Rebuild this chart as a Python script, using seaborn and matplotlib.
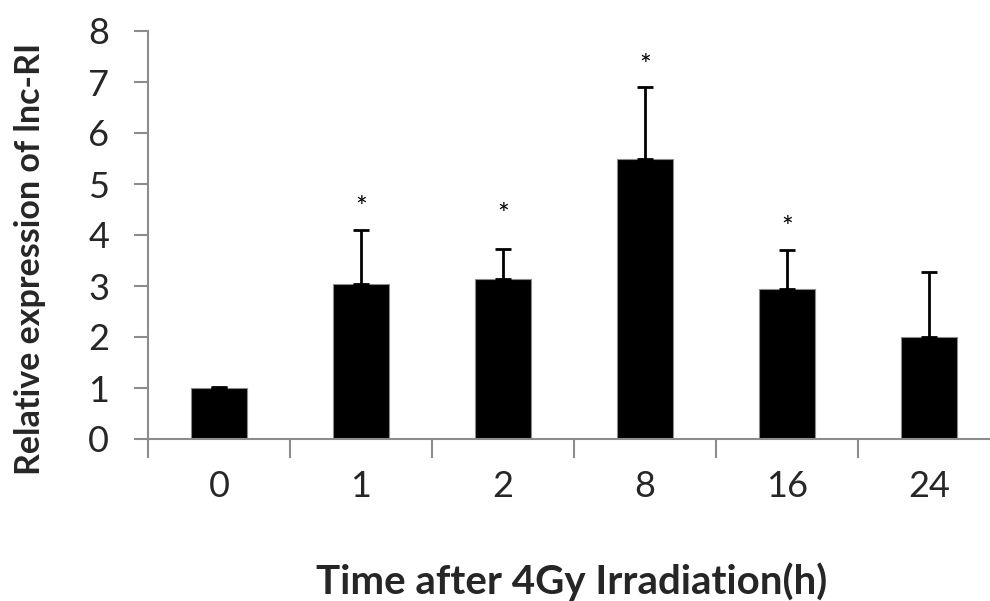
import numpy as np
import pandas as pd
import matplotlib
matplotlib.use('Agg')
import matplotlib.pyplot as plt
import seaborn as sns

# ── Data ──────────────────────────────────────────────────────────────────────
times     = ['0', '1', '2', '8', '16', '24']
means     = [1.00, 3.04, 3.14, 5.50, 2.94, 2.00]
errs_up   = [0.02, 1.06, 0.58, 1.40, 0.76, 1.28]
star_y    = [None, 4.50, 4.37, 7.29, 4.12, None]
y_ticks   = [0, 1, 2, 3, 4, 5, 6, 7, 8]

df = pd.DataFrame({'time': times, 'expr': means})

# ── Style ─────────────────────────────────────────────────────────────────────
sns.set_theme(style='white')
plt.rcParams['font.family'] = ['Lato', 'DejaVu Sans']
AX_GRAY = '#8c8c8c'

fig = plt.figure(figsize=(9.9, 6.01), dpi=100)
ax = fig.add_axes([148 / 990, 1 - 439 / 601, 852 / 990, 408 / 601])

sns.barplot(data=df, x='time', y='expr', color='black', width=0.4,
            errorbar=None, edgecolor=AX_GRAY, linewidth=0.8,
            saturation=1, ax=ax)

x = np.arange(len(times))
ax.errorbar(x, means, yerr=[np.zeros(len(means)), errs_up], fmt='none',
            ecolor='black', elinewidth=2, capsize=6, capthick=2)

for xi, sy in zip(x, star_y):
    if sy is not None:
        ax.text(xi, sy, '*', ha='center', va='center', fontsize=20,
                color='black')

ax.set_xlim(-0.5, len(times) - 0.5)
ax.set_ylim(0, 8)
ax.set_yticks(y_ticks)
ax.set_yticklabels([str(t) for t in y_ticks], fontsize=26)

# x ticks sit between the categories, labels centred under the bars
ax.set_xticks(np.arange(-0.5, len(times), 1.0))
ax.set_xticklabels([])
ax.set_xticks(x, minor=True)
ax.set_xticklabels(times, minor=True, fontsize=26)
ax.tick_params(axis='x', which='major', bottom=True, direction='out',
               length=14, width=1.5, color=AX_GRAY)
ax.tick_params(axis='x', which='minor', bottom=False, length=0, pad=22)
ax.tick_params(axis='y', left=True, direction='out', length=10, width=1.5,
               color=AX_GRAY, pad=18)

for side in ['top', 'right']:
    ax.spines[side].set_visible(False)
for side in ['left', 'bottom']:
    ax.spines[side].set_color(AX_GRAY)
    ax.spines[side].set_linewidth(1.5)

ax.set_xlabel('')
ax.set_ylabel('')
fig.text(572 / 990, 1 - 582 / 601, 'Time after 4Gy Irradiation(h)',
         ha='center', va='center', fontsize=29, fontweight='bold')
fig.text(30 / 990, 1 - 475 / 601, 'Relative expression of lnc-RI',
         ha='center', va='bottom', rotation=90, fontsize=24.5,
         fontweight='bold')

fig.savefig('out.png', dpi=100)
